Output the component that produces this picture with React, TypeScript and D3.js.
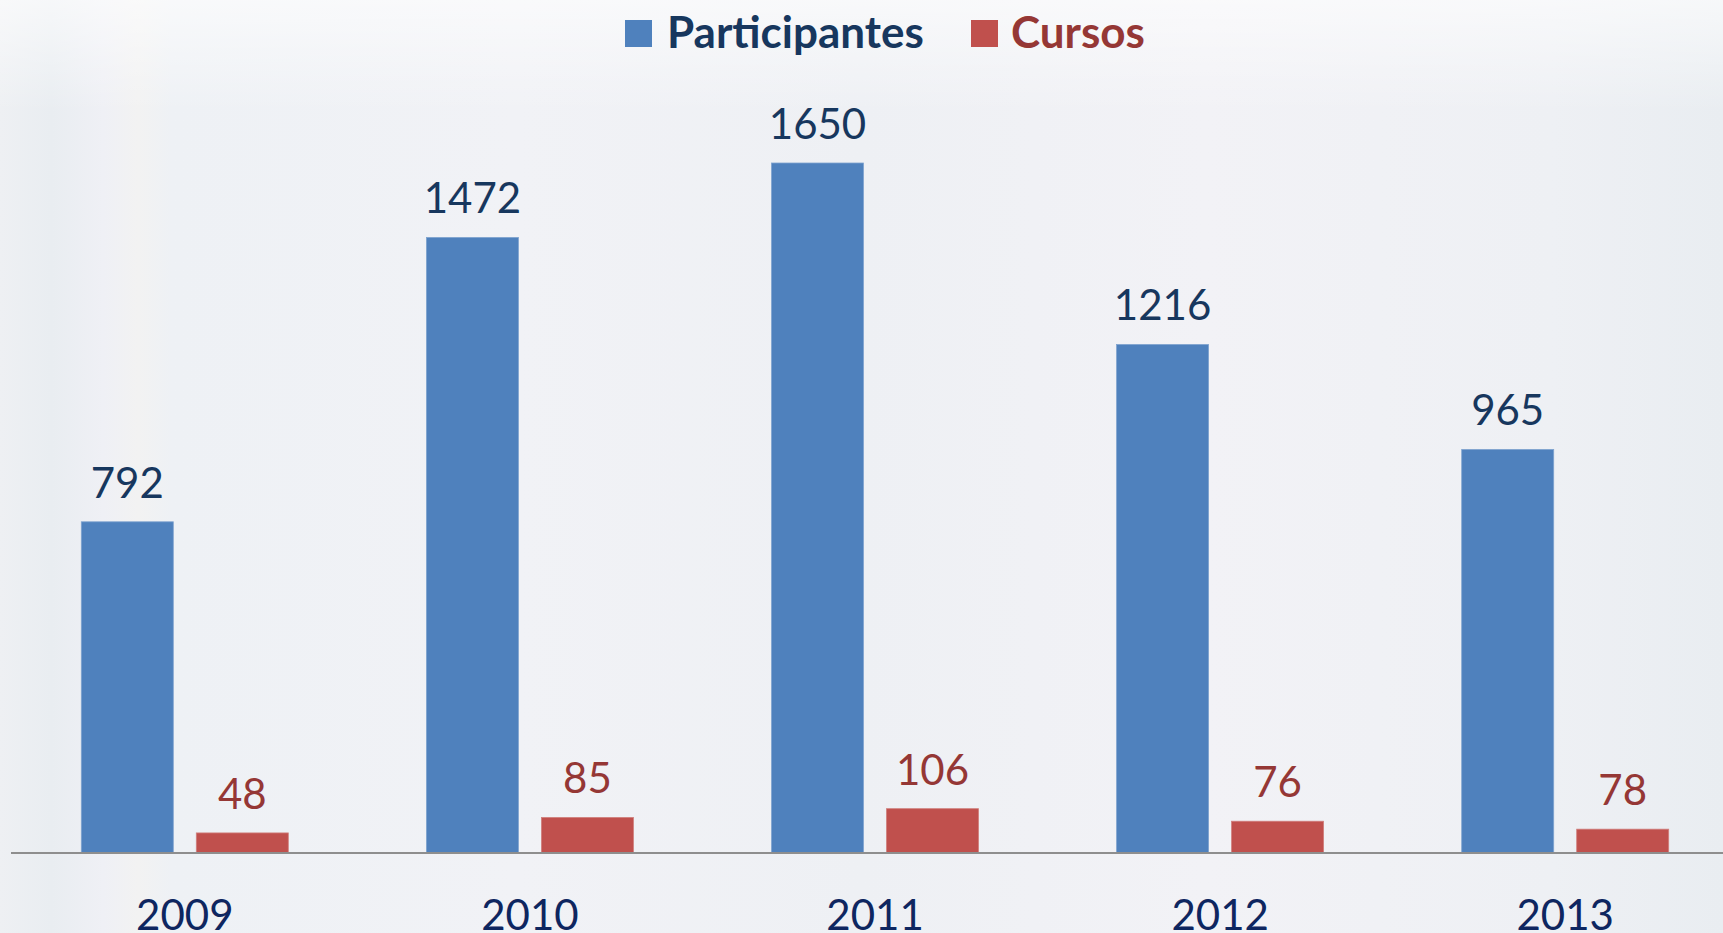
import * as d3 from 'd3';

const width = 1723;
const height = 933;

const years = ['2009', '2010', '2011', '2012', '2013'];
const participantes = [792, 1472, 1650, 1216, 965];
const cursos = [48, 85, 106, 76, 57];
// the last Cursos bar is drawn shorter than its label in the original
const cursosLabels = ['48', '85', '106', '76', '78'];

const series = ['Participantes', 'Cursos'];
const barColors = ['#4F81BD', '#C0504D'];
const textColors = ['#17375E', '#953735'];

const baseline = 853;
const font = 'Lato, Carlito, Calibri, sans-serif';

export default function App() {
  const x = d3.scaleBand(years, [12.3, 12.3 + 5 * 345.1]);
  const inner = d3.scaleBand(series, [69, 276]).paddingInner(0.2);
  const y = d3.scaleLinear([0, 1650], [baseline, 163]);

  const rows = years.map((year, i) => ({
    year,
    values: [participantes[i], cursos[i]],
    labels: [String(participantes[i]), cursosLabels[i]],
  }));

  // legend entries: swatch x and text x
  const legend = [
    { name: series[0], sx: 625, tx: 667 },
    { name: series[1], sx: 971, tx: 1011 },
  ];

  return (
    <svg
      width={width}
      height={height}
      style={{ position: 'absolute', left: 0, top: 0, display: 'block' }}
      fontFamily={font}
    >
      <defs>
        <linearGradient id="bg" x1="0" x2="1" y1="0" y2="0">
          <stop offset="0" stopColor="#eef0f3" />
          <stop offset="0.03" stopColor="#e9edf1" />
          <stop offset="0.06" stopColor="#eff0f5" />
          <stop offset="0.08" stopColor="#f2f2f2" />
          <stop offset="0.1" stopColor="#eef1f5" />
          <stop offset="0.3" stopColor="#f1f2f6" />
          <stop offset="0.5" stopColor="#eef0f4" />
          <stop offset="0.7" stopColor="#f2f2f6" />
          <stop offset="0.9" stopColor="#eef0f4" />
          <stop offset="1" stopColor="#e9edf1" />
        </linearGradient>
        <linearGradient id="fade" x1="0" x2="0" y1="0" y2="1">
          <stop offset="0" stopColor="#ffffff" stopOpacity={0.6} />
          <stop offset="0.12" stopColor="#ffffff" stopOpacity={0} />
        </linearGradient>
      </defs>
      <rect width={width} height={height} fill="url(#bg)" />
      <rect width={width} height={height} fill="url(#fade)" />

      <g>
        {legend.map((l, j) => (
          <g key={l.name}>
            <rect x={l.sx} y={20} width={27} height={27} fill={barColors[j]} />
            <text
              x={l.tx}
              y={48}
              fontSize={44}
              fontWeight={700}
              fill={textColors[j]}
            >
              {l.name}
            </text>
          </g>
        ))}
      </g>

      {rows.map((r) => (
        <g key={r.year} transform={`translate(${x(r.year)},0)`}>
          {series.map((s, j) => (
            <g key={s}>
              <rect
                x={inner(s)}
                y={y(r.values[j])}
                width={inner.bandwidth()}
                height={baseline - y(r.values[j])}
                fill={barColors[j]}
                stroke={j === 0 ? '#7fa3cf' : '#d07f7c'}
                strokeWidth={0.8}
              />
              <text
                x={(inner(s) ?? 0) + inner.bandwidth() / 2}
                y={y(r.values[j]) - 24}
                textAnchor="middle"
                fontSize={42}
                fill={textColors[j]}
              >
                {r.labels[j]}
              </text>
            </g>
          ))}
          <text
            x={x.bandwidth() / 2}
            y={930}
            textAnchor="middle"
            fontSize={42}
            fill="#0E2660"
          >
            {r.year}
          </text>
        </g>
      ))}

      <line
        x1={11}
        x2={width}
        y1={baseline}
        y2={baseline}
        stroke="#8e8e8e"
        strokeWidth={2}
      />
    </svg>
  );
}
